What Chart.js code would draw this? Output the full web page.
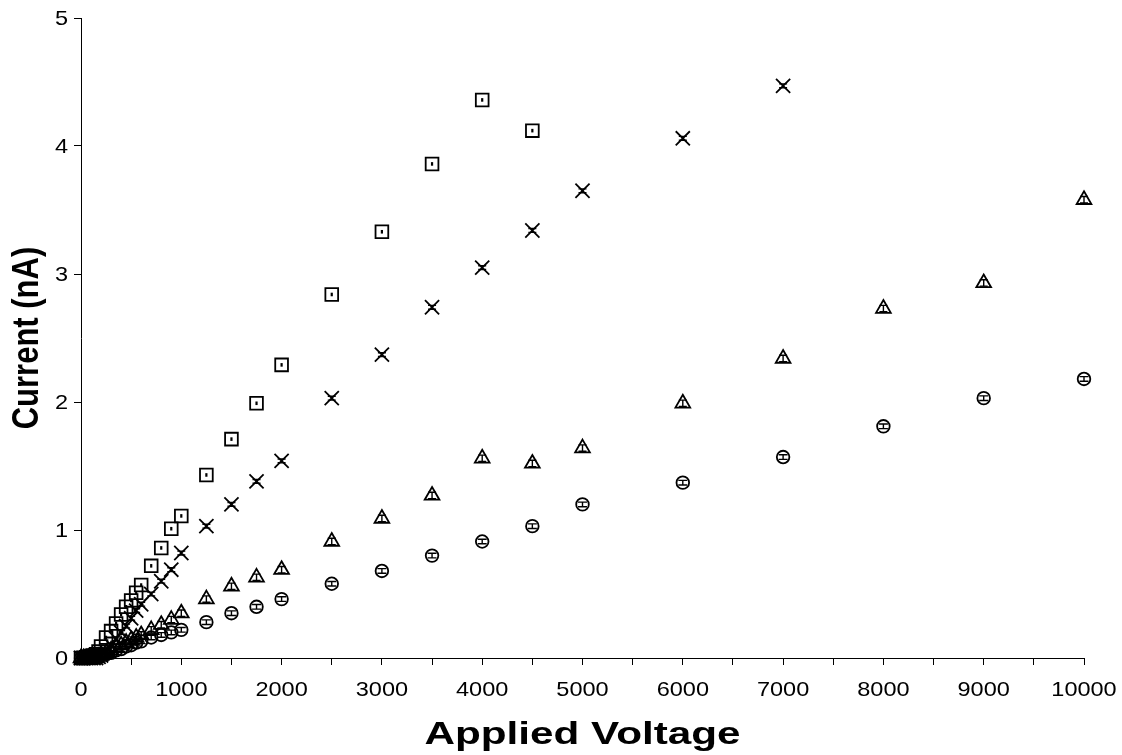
<!DOCTYPE html>
<html>
<head>
<meta charset="utf-8">
<script src="https://cdn.jsdelivr.net/npm/chart.js@4/dist/chart.umd.min.js"></script>
<style>
  html, body { margin: 0; padding: 0; background: #fff; }
  #wrap { width: 1122px; height: 755px; }
</style>
</head>
<body>
<div id="wrap"><canvas id="chart" width="1122" height="755"></canvas></div>
<script>
// applied voltage (shared by all four series, shorter series stop early)
const voltage = [0, 25, 50, 75, 100, 125, 150, 175, 200, 250, 300, 350, 400, 450, 500, 550, 600,
  700, 800, 900, 1000, 1250, 1500, 1750, 2000, 2500, 3000, 3500, 4000, 4500, 5000, 6000, 7000,
  8000, 9000, 10000];

// current (nA)
const squareCurrent = [0, 0, 0.005, 0.01, 0.015, 0.02, 0.03, 0.05, 0.09, 0.16, 0.21, 0.27, 0.34, 0.40,
  0.45, 0.51, 0.57, 0.72, 0.86, 1.01, 1.11, 1.43, 1.71, 1.99, 2.29, 2.84, 3.33, 3.86, 4.36, 4.12];
const crossCurrent = [0, 0, 0, 0, 0, 0, 0, 0.01, 0.02, 0.05, 0.10, 0.15, 0.20, 0.25, 0.31, 0.37,
  0.42, 0.50, 0.60, 0.69, 0.82, 1.03, 1.20, 1.38, 1.54, 2.03, 2.37, 2.74, 3.05, 3.34, 3.65, 4.06, 4.47];
const triangleCurrent = [0, 0, 0, 0, 0, 0, 0, 0.01, 0.02, 0.04, 0.06, 0.08, 0.10, 0.12, 0.14, 0.16,
  0.18, 0.22, 0.26, 0.30, 0.35, 0.46, 0.56, 0.63, 0.69, 0.91, 1.09, 1.27, 1.56, 1.52, 1.64, 1.99,
  2.34, 2.73, 2.93, 3.58];
const circleCurrent = [0, 0, 0, 0, 0, 0, 0, 0.01, 0.02, 0.03, 0.04, 0.06, 0.07, 0.09, 0.10, 0.12,
  0.13, 0.16, 0.18, 0.20, 0.22, 0.28, 0.35, 0.40, 0.46, 0.58, 0.68, 0.80, 0.91, 1.03, 1.20, 1.37,
  1.57, 1.81, 2.03, 2.18];

// error bar half-size per series (nA)
const errSquare = 0.014, errCross = 0.015, errTriangle = 0.025, errCircle = 0.018;

const yTicks = [0, 1, 2, 3, 4, 5];
const xTitle = "Applied Voltage";
const yTitle = "Current (nA)";

function pts(arr) {
  return arr.map((v, i) => ({ x: voltage[i], y: v }));
}

function series(arr, style, radius, err, cap) {
  return {
    data: pts(arr),
    pointStyle: style,
    pointRadius: radius,
    pointHoverRadius: radius,
    pointBorderColor: "#000",
    pointBackgroundColor: "rgba(0,0,0,0)",
    pointBorderWidth: 1.8,
    showLine: false,
    clip: false,
    err: err,
    cap: cap,
  };
}

// small error bars drawn inside the markers
const errorBars = {
  id: "errorBars",
  afterDatasetsDraw(chart) {
    const ctx = chart.ctx;
    const ys = chart.scales.y;
    chart.data.datasets.forEach((ds, di) => {
      const meta = chart.getDatasetMeta(di);
      ctx.save();
      ctx.strokeStyle = "#000";
      ctx.lineWidth = ds.cap ? 1.4 : 2.2;
      meta.data.forEach((p, i) => {
        const v = ds.data[i].y;
        const y1 = ys.getPixelForValue(v - ds.err);
        const y2 = ys.getPixelForValue(v + ds.err);
        ctx.beginPath();
        ctx.moveTo(p.x, y1);
        ctx.lineTo(p.x, y2);
        if (ds.cap) {
          ctx.moveTo(p.x - ds.cap, y1);
          ctx.lineTo(p.x + ds.cap, y1);
          ctx.moveTo(p.x - ds.cap, y2);
          ctx.lineTo(p.x + ds.cap, y2);
        }
        ctx.stroke();
      });
      ctx.restore();
    });
  },
};

const font = "'Liberation Sans', Arial, sans-serif";

// the original text is a little wider than normal Arial, so labels are
// drawn here with a horizontal stretch
const wideText = {
  id: "wideText",
  afterDraw(chart) {
    const ctx = chart.ctx;
    const xs = chart.scales.x, ys = chart.scales.y;
    const area = chart.chartArea;
    ctx.save();
    ctx.fillStyle = "#000";
    ctx.textBaseline = "middle";
    ctx.textAlign = "center";

    ctx.font = "21px " + font;
    xs.ticks.forEach((t) => {
      if (t.value % 1000 !== 0) return;
      ctx.save();
      ctx.translate(xs.getPixelForValue(t.value), area.bottom + 32);
      ctx.scale(1.12, 1);
      ctx.fillText(String(t.value), 0, 0);
      ctx.restore();
    });
    ctx.textAlign = "right";
    ys.ticks.forEach((t) => {
      ctx.save();
      ctx.translate(area.left - 13, ys.getPixelForValue(t.value) + 1);
      ctx.scale(1.12, 1);
      ctx.fillText(String(t.value), 0, 0);
      ctx.restore();
    });

    ctx.textAlign = "center";
    ctx.font = "bold 32px " + font;
    ctx.save();
    ctx.translate((area.left + area.right) / 2, 735);
    ctx.scale(1.32, 1);
    ctx.fillText(xTitle, 0, 0);
    ctx.restore();

    ctx.font = "bold 31px " + font;
    ctx.save();
    ctx.translate(28, (area.top + area.bottom) / 2);
    ctx.scale(1.2, 1);
    ctx.rotate(-Math.PI / 2);
    ctx.fillText(yTitle, 0, 0);
    ctx.restore();
    ctx.restore();
  },
};

new Chart(document.getElementById("chart"), {
  type: "scatter",
  data: {
    datasets: [
      series(squareCurrent, "rect", 9, errSquare, 0),
      series(crossCurrent, "crossRot", 10, errCross, 4),
      series(triangleCurrent, "triangle", 8.5, errTriangle, 4),
      series(circleCurrent, "circle", 6.3, errCircle, 4.5),
    ],
  },
  options: {
    responsive: false,
    animation: false,
    layout: { padding: { top: 18, right: 38, left: 0, bottom: 0 } },
    plugins: {
      legend: { display: false },
      tooltip: { enabled: false },
    },
    scales: {
      x: {
        type: "linear",
        min: 0,
        max: 10000,
        grid: { drawOnChartArea: false, drawTicks: true, tickLength: 7, tickColor: "#000" },
        border: { display: true, color: "#000", width: 1 },
        ticks: {
          stepSize: 500,
          autoSkip: false,
          maxRotation: 0,
          color: "rgba(0,0,0,0)",
          font: { family: font, size: 21 },
          callback: (v) => (v % 1000 === 0 ? String(v) : ""),
        },
        title: { display: false, text: xTitle },
        afterFit: (s) => { s.height = 97; },
      },
      y: {
        type: "linear",
        min: 0,
        max: 5,
        afterBuildTicks: (s) => { s.ticks = yTicks.map((v) => ({ value: v })); },
        grid: { drawOnChartArea: false, drawTicks: true, tickLength: 7, tickColor: "#000" },
        border: { display: true, color: "#000", width: 1 },
        ticks: {
          color: "rgba(0,0,0,0)",
          font: { family: font, size: 21 },
        },
        title: { display: false, text: yTitle },
        afterFit: (s) => { s.width = 81; },
      },
    },
  },
  plugins: [errorBars, wideText],
});
</script>
</body>
</html>
